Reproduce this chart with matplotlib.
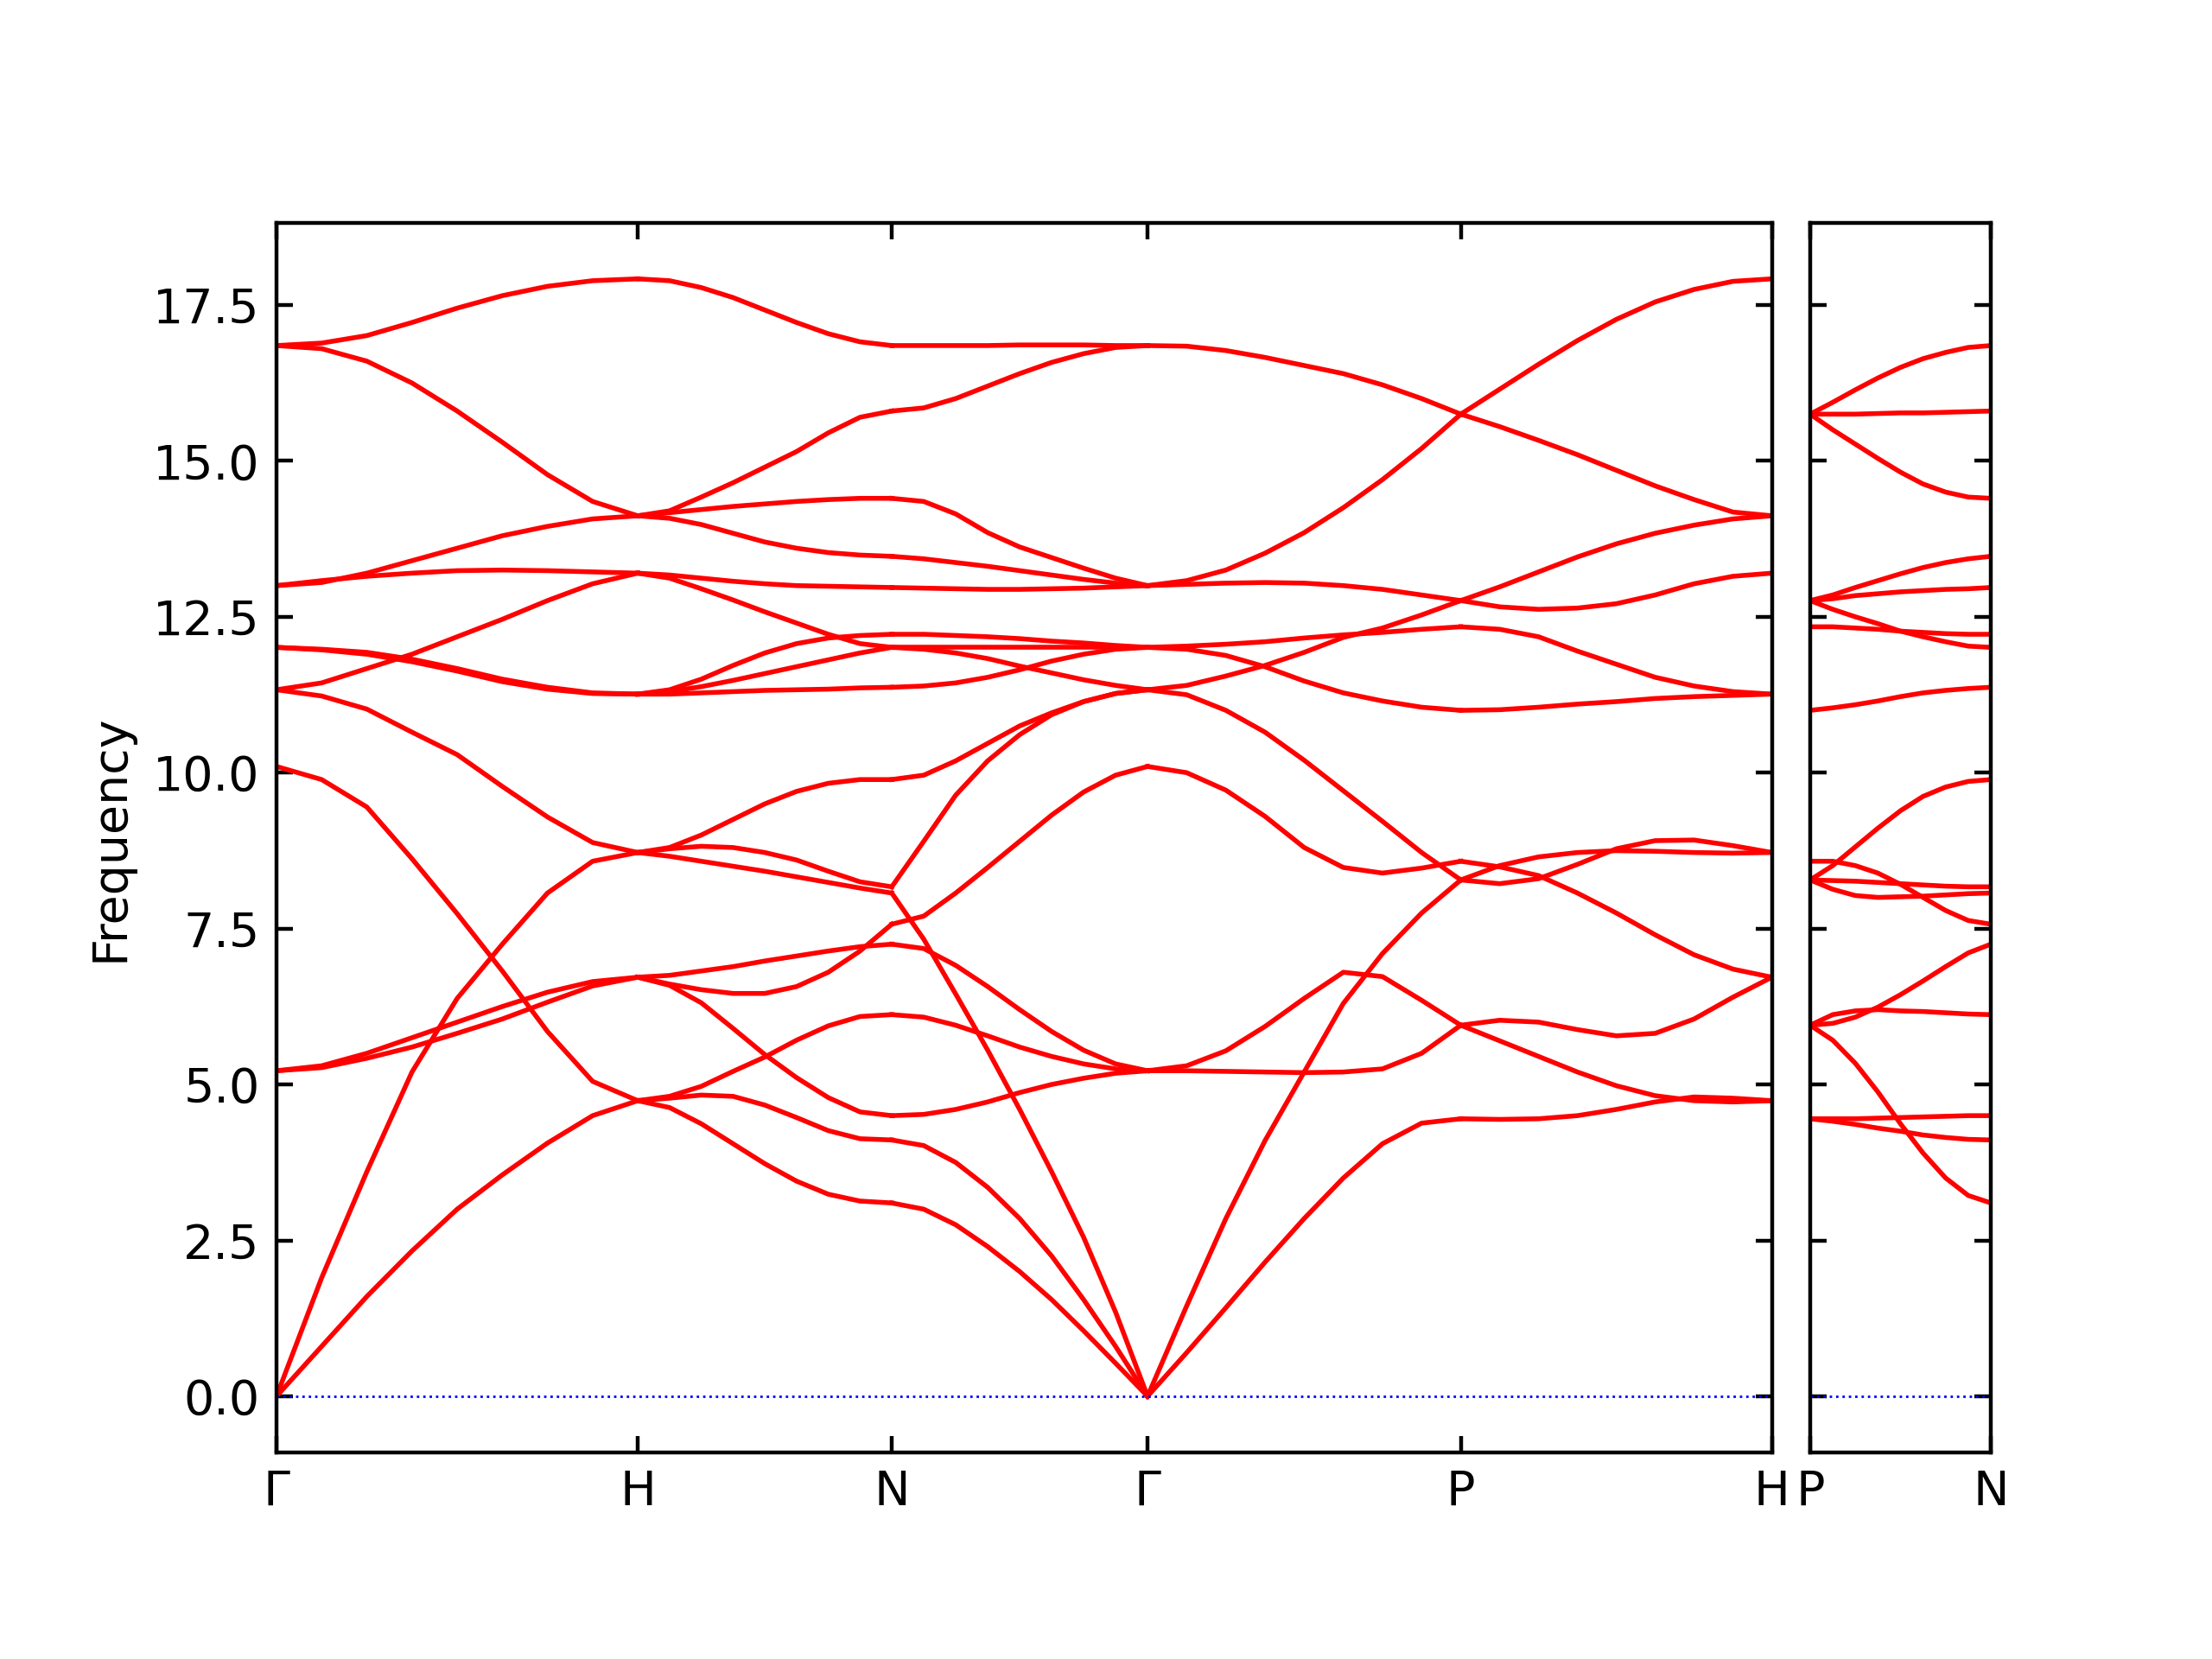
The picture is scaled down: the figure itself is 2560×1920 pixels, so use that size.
import matplotlib.pyplot as plt

# distance of the special points along the path (Gamma-H = 1)
path_main = [0.0, 1.0, 1.703, 2.411, 3.278, 4.139]
labels_main = ['Γ', 'H', 'N', 'Γ', 'P', 'H']
path_side = [0.0, 0.5]
labels_side = ['P', 'N']

frac = [0, 0.125, 0.25, 0.375, 0.5, 0.625, 0.75, 0.875, 1]

# Gamma -> H
bands_GH = [
    [16.85, 16.89, 17.01, 17.22, 17.45, 17.65, 17.8, 17.89, 17.92],
    [16.85, 16.8, 16.6, 16.25, 15.8, 15.3, 14.78, 14.35, 14.12],
    [13.0, 13.05, 13.2, 13.4, 13.6, 13.8, 13.95, 14.07, 14.12],
    [13.0, 13.08, 13.15, 13.2, 13.24, 13.25, 13.24, 13.22, 13.2],
    [11.33, 11.44, 11.67, 11.9, 12.18, 12.46, 12.76, 13.03, 13.2],
    [12.01, 11.98, 11.93, 11.82, 11.67, 11.5, 11.37, 11.28, 11.26],
    [12.01, 11.97, 11.9, 11.78, 11.63, 11.46, 11.34, 11.27, 11.26],
    [11.33, 11.23, 11.02, 10.65, 10.29, 9.78, 9.29, 8.88, 8.72],
    [10.1, 9.89, 9.45, 8.62, 7.74, 6.82, 5.85, 5.05, 4.74],
    [5.22, 5.3, 5.5, 5.75, 6.0, 6.25, 6.48, 6.65, 6.72],
    [5.22, 5.27, 5.42, 5.6, 5.82, 6.05, 6.32, 6.58, 6.72],
    [0.0, 1.9, 3.6, 5.2, 6.38, 7.25, 8.07, 8.58, 8.72],
    [0.0, 0.8, 1.6, 2.33, 3.0, 3.55, 4.06, 4.5, 4.74],
]

# H -> N
bands_HN = [
    [17.92, 17.89, 17.78, 17.62, 17.42, 17.22, 17.04, 16.91, 16.85],
    [14.12, 14.2, 14.42, 14.65, 14.9, 15.15, 15.45, 15.7, 15.8],
    [14.12, 14.17, 14.22, 14.27, 14.31, 14.35, 14.38, 14.4, 14.4],
    [14.12, 14.08, 13.98, 13.84, 13.7, 13.6, 13.53, 13.49, 13.47],
    [13.2, 13.17, 13.12, 13.07, 13.03, 13.0, 12.99, 12.98, 12.97],
    [13.2, 13.12, 12.95, 12.77, 12.58, 12.4, 12.22, 12.07, 12.01],
    [11.26, 11.33, 11.5, 11.72, 11.92, 12.07, 12.16, 12.2, 12.22],
    [11.26, 11.3, 11.38, 11.48, 11.59, 11.7, 11.81, 11.92, 12.01],
    [11.26, 11.26, 11.28, 11.3, 11.32, 11.33, 11.34, 11.36, 11.37],
    [8.72, 8.8, 9.0, 9.25, 9.5, 9.7, 9.83, 9.89, 9.89],
    [8.72, 8.78, 8.82, 8.8, 8.72, 8.6, 8.42, 8.25, 8.17],
    [8.72, 8.66, 8.58, 8.5, 8.42, 8.33, 8.24, 8.15, 8.07],
    [6.72, 6.75, 6.82, 6.89, 6.98, 7.06, 7.14, 7.21, 7.25],
    [6.72, 6.61, 6.52, 6.46, 6.46, 6.57, 6.8, 7.14, 7.57],
    [6.72, 6.59, 6.31, 5.9, 5.48, 5.11, 4.79, 4.56, 4.5],
    [4.74, 4.81, 4.97, 5.21, 5.44, 5.71, 5.94, 6.09, 6.12],
    [4.74, 4.78, 4.83, 4.81, 4.67, 4.47, 4.26, 4.13, 4.11],
    [4.74, 4.63, 4.37, 4.05, 3.73, 3.45, 3.24, 3.13, 3.1],
]

# N -> Gamma
bands_NG = [
    [16.85, 16.85, 16.85, 16.85, 16.86, 16.86, 16.86, 16.85, 16.85],
    [15.8, 15.85, 16.0, 16.2, 16.4, 16.58, 16.72, 16.82, 16.85],
    [14.4, 14.35, 14.15, 13.85, 13.62, 13.45, 13.28, 13.12, 13.0],
    [13.47, 13.43, 13.37, 13.31, 13.24, 13.17, 13.1, 13.04, 13.0],
    [12.97, 12.96, 12.95, 12.94, 12.94, 12.95, 12.96, 12.98, 13.0],
    [12.22, 12.22, 12.2, 12.18, 12.15, 12.11, 12.08, 12.04, 12.01],
    [12.01, 12.01, 12.01, 12.01, 12.01, 12.01, 12.01, 12.01, 12.01],
    [12.01, 11.98, 11.92, 11.83, 11.71, 11.6, 11.49, 11.4, 11.33],
    [11.37, 11.39, 11.44, 11.53, 11.65, 11.79, 11.9, 11.98, 12.01],
    [9.89, 9.96, 10.19, 10.47, 10.75, 10.96, 11.14, 11.27, 11.33],
    [8.17, 8.9, 9.64, 10.19, 10.61, 10.93, 11.14, 11.27, 11.33],
    [8.07, 7.33, 6.45, 5.55, 4.6, 3.6, 2.55, 1.35, 0.0],
    [7.57, 7.7, 8.07, 8.48, 8.9, 9.32, 9.69, 9.96, 10.1],
    [7.25, 7.18, 6.91, 6.57, 6.2, 5.85, 5.55, 5.33, 5.22],
    [6.12, 6.08, 5.95, 5.78, 5.6, 5.45, 5.33, 5.25, 5.22],
    [4.5, 4.52, 4.6, 4.72, 4.87, 5.0, 5.1, 5.18, 5.22],
    [4.11, 4.02, 3.75, 3.35, 2.85, 2.25, 1.55, 0.8, 0.0],
    [3.1, 3.0, 2.75, 2.4, 2.0, 1.55, 1.05, 0.53, 0.0],
]

# Gamma -> P
bands_GP = [
    [16.85, 16.84, 16.77, 16.66, 16.53, 16.4, 16.22, 16.0, 15.75],
    [13.0, 13.08, 13.25, 13.52, 13.85, 14.25, 14.7, 15.2, 15.75],
    [13.0, 13.02, 13.04, 13.05, 13.04, 13.0, 12.94, 12.85, 12.76],
    [11.33, 11.4, 11.55, 11.72, 11.93, 12.17, 12.32, 12.53, 12.76],
    [12.01, 12.03, 12.06, 12.1, 12.16, 12.21, 12.25, 12.3, 12.34],
    [12.01, 11.98, 11.88, 11.7, 11.47, 11.28, 11.15, 11.05, 11.0],
    [11.33, 11.25, 11.0, 10.65, 10.2, 9.71, 9.22, 8.72, 8.28],
    [10.1, 10.0, 9.72, 9.3, 8.8, 8.48, 8.39, 8.47, 8.58],
    [5.22, 5.3, 5.54, 5.93, 6.38, 6.8, 6.73, 6.35, 5.95],
    [5.22, 5.22, 5.21, 5.2, 5.19, 5.2, 5.25, 5.5, 5.95],
    [0.0, 1.45, 2.85, 4.1, 5.2, 6.3, 7.1, 7.75, 8.28],
    [0.0, 0.7, 1.42, 2.15, 2.85, 3.5, 4.05, 4.38, 4.45],
]

# P -> H
bands_PH = [
    [15.75, 16.15, 16.55, 16.93, 17.27, 17.55, 17.75, 17.88, 17.92],
    [15.75, 15.55, 15.33, 15.1, 14.85, 14.6, 14.38, 14.18, 14.12],
    [12.76, 12.98, 13.22, 13.46, 13.67, 13.84, 13.97, 14.07, 14.12],
    [12.76, 12.66, 12.62, 12.64, 12.71, 12.85, 13.03, 13.15, 13.2],
    [12.34, 12.3, 12.18, 11.95, 11.74, 11.53, 11.39, 11.3, 11.26],
    [11.0, 11.01, 11.05, 11.1, 11.14, 11.19, 11.22, 11.24, 11.26],
    [8.28, 8.22, 8.3, 8.53, 8.78, 8.91, 8.92, 8.83, 8.72],
    [8.28, 8.51, 8.65, 8.72, 8.75, 8.74, 8.72, 8.71, 8.72],
    [8.58, 8.49, 8.35, 8.07, 7.75, 7.4, 7.08, 6.85, 6.72],
    [5.95, 6.03, 6.0, 5.88, 5.78, 5.82, 6.05, 6.4, 6.72],
    [5.95, 5.7, 5.45, 5.2, 4.98, 4.82, 4.74, 4.72, 4.74],
    [4.45, 4.44, 4.45, 4.5, 4.6, 4.72, 4.8, 4.78, 4.74],
]

# P -> N (second panel)
bands_PN = [
    [15.75, 15.94, 16.14, 16.33, 16.5, 16.64, 16.74, 16.82, 16.85],
    [15.75, 15.75, 15.75, 15.76, 15.77, 15.77, 15.78, 15.79, 15.8],
    [15.75, 15.5, 15.27, 15.04, 14.82, 14.63, 14.5, 14.42, 14.4],
    [12.76, 12.85, 12.97, 13.08, 13.19, 13.29, 13.37, 13.43, 13.47],
    [12.76, 12.79, 12.84, 12.87, 12.9, 12.92, 12.94, 12.95, 12.97],
    [12.76, 12.62, 12.5, 12.39, 12.27, 12.18, 12.1, 12.03, 12.01],
    [12.34, 12.34, 12.32, 12.3, 12.27, 12.25, 12.23, 12.22, 12.22],
    [11.0, 11.04, 11.09, 11.15, 11.22, 11.28, 11.32, 11.35, 11.37],
    [8.28, 8.51, 8.81, 9.11, 9.39, 9.62, 9.77, 9.86, 9.89],
    [8.58, 8.58, 8.51, 8.39, 8.21, 8.0, 7.79, 7.63, 7.57],
    [8.28, 8.27, 8.26, 8.24, 8.22, 8.2, 8.18, 8.17, 8.17],
    [8.28, 8.13, 8.03, 8.0, 8.01, 8.02, 8.04, 8.06, 8.07],
    [5.95, 5.98, 6.08, 6.24, 6.44, 6.66, 6.89, 7.11, 7.25],
    [5.95, 6.12, 6.18, 6.2, 6.18, 6.17, 6.15, 6.13, 6.12],
    [5.95, 5.71, 5.34, 4.88, 4.37, 3.9, 3.5, 3.22, 3.1],
    [4.45, 4.45, 4.45, 4.46, 4.47, 4.48, 4.49, 4.5, 4.5],
    [4.45, 4.41, 4.36, 4.3, 4.25, 4.19, 4.15, 4.12, 4.11],
]

fig = plt.figure(figsize=(6.4, 4.8), dpi=400)
gs = fig.add_gridspec(1, 2, width_ratios=[path_main[-1], path_side[-1]],
                      left=0.125, right=0.9, top=0.8656, bottom=0.1247, wspace=0.0457)
ax1 = fig.add_subplot(gs[0])
ax2 = fig.add_subplot(gs[1], sharey=ax1)


def draw_segment(ax, x0, x1, bands):
    xs = [x0 + f * (x1 - x0) for f in frac]
    for b in bands:
        ax.plot(xs, b, color='r', lw=1.0)


main_segments = [bands_GH, bands_HN, bands_NG, bands_GP, bands_PH]
for i, seg in enumerate(main_segments):
    draw_segment(ax1, path_main[i], path_main[i + 1], seg)
draw_segment(ax2, path_side[0], path_side[1], bands_PN)

for ax, ticks, labels in [(ax1, path_main, labels_main), (ax2, path_side, labels_side)]:
    ax.axhline(0, color='b', ls=':', lw=0.5)
    ax.set_xlim(ticks[0], ticks[-1])
    ax.set_xticks(ticks)
    ax.set_xticklabels(labels)
    ax.tick_params(direction='in', top=True, right=True)

ax1.set_ylim(-0.896, 18.816)
ax2.tick_params(labelleft=False)
ax1.set_ylabel('Frequency')

fig.savefig('out.png', dpi=400)
